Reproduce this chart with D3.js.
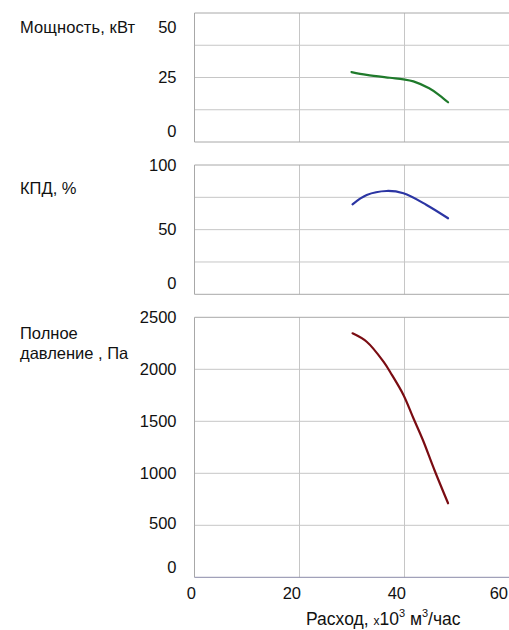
<!DOCTYPE html>
<html><head><meta charset="utf-8">
<script src="https://cdn.jsdelivr.net/npm/d3@7"></script>
<style>
html,body{margin:0;padding:0;background:#fff;}
svg{display:block;font-family:"Liberation Sans",Arial,sans-serif;}
</style></head>
<body><svg id="c" width="509" height="630"></svg>
<script>
// ---- data ----
const xTicks = [0, 20, 40, 60];
const powerTicks = [0, 25, 50];
const effTicks = [0, 50, 100];
const pressTicks = [0, 500, 1000, 1500, 2000, 2500];

const powerFlow = [29.9, 32.8, 37.2, 39.8, 41.7, 44.7, 46.6, 48.3];
const powerVals = [27.1, 26.0, 24.9, 24.3, 23.5, 20.8, 18.2, 15.4];

const effFlow = [30.1, 32.8, 36.6, 39.8, 44.2, 48.3];
const effVals = [69.6, 76.8, 79.9, 78.1, 69.1, 58.8];

const pressFlow = [30.1, 32.8, 36.0, 37.6, 39.8, 41.7, 43.5, 45.7, 48.3];
const pressVals = [2346, 2265, 2073, 1946, 1753, 1529, 1320, 1032, 712];

// ---- drawing ----
const svg = d3.select("#c");
const x = d3.scaleLinear().domain([0, 60]).range([194.5, 509.5]);

const panels = [
  {domain:[0,50], range:[142,13], grid:[12.5,25,37.5], ticks:powerTicks, flow:powerFlow, vals:powerVals, color:"#1f7a2b",
   nudge:{0:-11, 50:14}},
  {domain:[0,100], range:[294.3,165], grid:[25,50,75], ticks:effTicks, flow:effFlow, vals:effVals, color:"#2b35a3",
   nudge:{0:-11}},
  {domain:[0,2500], range:[577.3,317.3], grid:[500,1000,1500,2000], ticks:pressTicks, flow:pressFlow, vals:pressVals, color:"#7a0c12",
   nudge:{0:-10, 500:-2}}
];

panels.forEach((p, i) => {
  const y = d3.scaleLinear().domain(p.domain).range(p.range);
  const g = svg.append("g");
  const x0 = x(0), x1 = x(60), yT = y(p.domain[1]), yB = y(p.domain[0]);
  g.selectAll(".hg").data(p.grid).join("line")
    .attr("x1", x0).attr("x2", x1).attr("y1", d => y(d)).attr("y2", d => y(d))
    .attr("stroke", "#c6c6c6").attr("stroke-width", 1);
  g.selectAll(".vg").data([20, 40]).join("line")
    .attr("x1", d => x(d)).attr("x2", d => x(d)).attr("y1", yT).attr("y2", yB)
    .attr("stroke", "#c6c6c6").attr("stroke-width", 1);
  g.append("line").attr("x1", x0).attr("x2", x1).attr("y1", yT).attr("y2", yT).attr("stroke", "#a8a8a8");
  g.append("line").attr("x1", x0).attr("x2", x0).attr("y1", yT).attr("y2", yB).attr("stroke", "#a8a8a8");
  g.append("line").attr("x1", x0).attr("x2", x1).attr("y1", yB).attr("y2", yB)
    .attr("stroke", i === 2 ? "#8a8aa8" : "#a8a8a8");

  const ax = svg.append("g").attr("transform", `translate(${x0 - 16},0)`)
    .call(d3.axisLeft(y).tickValues(p.ticks).tickSize(0).tickPadding(2).tickFormat(d3.format("d")));
  ax.select(".domain").remove();
  ax.selectAll("text").attr("font-size", 16.5).attr("fill", "#111")
    .attr("font-family", "Liberation Sans, Arial, sans-serif")
    .attr("transform", d => p.nudge[d] ? `translate(0,${p.nudge[d]})` : null)
    .attr("dy", "0.32em");

  const pts = p.flow.map((f, k) => [f, p.vals[k]]);
  g.append("path").datum(pts)
    .attr("fill", "none").attr("stroke", p.color).attr("stroke-width", 2.2)
    .attr("stroke-linecap", "round").attr("stroke-linejoin", "round")
    .attr("d", d3.line().x(d => x(d[0])).y(d => y(d[1])).curve(d3.curveCatmullRom.alpha(0.5)));
});

// x axis labels
const xa = svg.append("g").attr("transform", "translate(0,583)")
  .call(d3.axisBottom(x).tickValues(xTicks).tickSize(0).tickPadding(4).tickFormat(d3.format("d")));
xa.select(".domain").remove();
xa.selectAll("text").attr("font-size", 16.5).attr("fill", "#111")
  .attr("font-family", "Liberation Sans, Arial, sans-serif")
  .attr("text-anchor", "end").attr("dx", d => d === 60 ? "-2px" : "1px");

// left titles
const lt = svg.append("g").attr("font-size", 16.5).attr("fill", "#111");
lt.append("text").attr("x", 20).attr("y", 33).attr("textLength", 115).text("Мощность, кВт");
lt.append("text").attr("x", 20).attr("y", 194).text("КПД, %");
lt.append("text").attr("x", 20).attr("y", 339).text("Полное");
lt.append("text").attr("x", 20).attr("y", 359).text("давление , Па");

// x title
const xt = svg.append("text").attr("x", 306).attr("y", 625).attr("font-size", 17.5).attr("fill", "#111");
xt.append("tspan").text("Расход, ");
xt.append("tspan").attr("font-size", 12).text("x");
xt.append("tspan").text("10");
xt.append("tspan").attr("font-size", 11).attr("dy", -8).text("3");
xt.append("tspan").attr("dy", 8).text(" м");
xt.append("tspan").attr("font-size", 11).attr("dy", -8).text("3");
xt.append("tspan").attr("dy", 8).text("/час");
</script></body></html>
